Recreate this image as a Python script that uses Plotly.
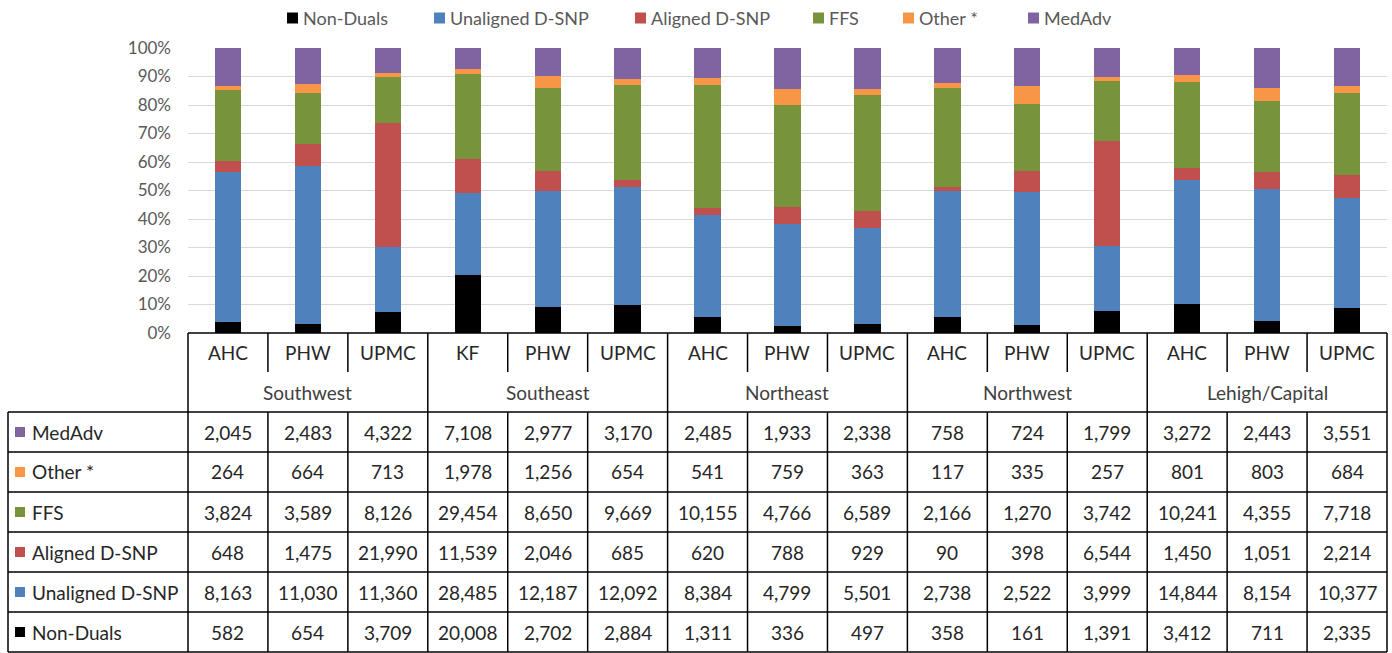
import plotly.graph_objects as go

# ---------------- data ----------------
regions = ["Southwest", "Southeast", "Northeast", "Northwest", "Lehigh/Capital"]
plans = ["AHC", "PHW", "UPMC",
         "KF", "PHW", "UPMC",
         "AHC", "PHW", "UPMC",
         "AHC", "PHW", "UPMC",
         "AHC", "PHW", "UPMC"]

non_duals = [582, 654, 3709, 20008, 2702, 2884, 1311, 336, 497, 358, 161, 1391, 3412, 711, 2335]
unaligned_dsnp = [8163, 11030, 11360, 28485, 12187, 12092, 8384, 4799, 5501, 2738, 2522, 3999, 14844, 8154, 10377]
aligned_dsnp = [648, 1475, 21990, 11539, 2046, 685, 620, 788, 929, 90, 398, 6544, 1450, 1051, 2214]
ffs = [3824, 3589, 8126, 29454, 8650, 9669, 10155, 4766, 6589, 2166, 1270, 3742, 10241, 4355, 7718]
other = [264, 664, 713, 1978, 1256, 654, 541, 759, 363, 117, 335, 257, 801, 803, 684]
medadv = [2045, 2483, 4322, 7108, 2977, 3170, 2485, 1933, 2338, 758, 724, 1799, 3272, 2443, 3551]

series_names = ["Non-Duals", "Unaligned D-SNP", "Aligned D-SNP", "FFS", "Other *", "MedAdv"]
series_values = [non_duals, unaligned_dsnp, aligned_dsnp, ffs, other, medadv]
series_colors = ["#000000", "#4F81BD", "#C0504D", "#77933C", "#F79646", "#8064A2"]

y_ticks = [0, 10, 20, 30, 40, 50, 60, 70, 80, 90, 100]
y_tick_labels = [f"{t}%" for t in y_ticks]

# ---------------- layout geometry ----------------
W, H = 1392, 653
FONT = "Lato, 'Open Sans', Arial, sans-serif"
TXT = "#262626"
GRAY = "#595959"

def px(x):
    return x / W

def py(y):
    return 1 - y / H

n = len(plans)
xdom = [px(188), px(1387)]
ydom = [py(333), py(48)]
xr = [-0.5, n - 0.5]

def xpaper(v):
    return xdom[0] + (v - xr[0]) / (xr[1] - xr[0]) * (xdom[1] - xdom[0])

idx = list(range(n))

fig = go.Figure()
for name, vals, col in zip(series_names, series_values, series_colors):
    fig.add_trace(go.Bar(
        x=idx, y=vals, name=name, marker=dict(color=col, line=dict(width=0)),
        width=0.33, showlegend=False,
    ))

shapes = []
annotations = []
LW = 1.5
LC = "#000000"

def hline(x0, x1, y):
    shapes.append(dict(type="line", xref="paper", yref="paper", x0=x0, x1=x1,
                       y0=py(y), y1=py(y), line=dict(color=LC, width=LW), layer="above"))

def vline(x, y0, y1):
    shapes.append(dict(type="line", xref="paper", yref="paper", x0=x, x1=x,
                       y0=py(y0), y1=py(y1), line=dict(color=LC, width=LW), layer="above"))

# legend (Excel-style, top)
legend_sq_x = [287, 434, 635, 813, 903, 1028]
legend_y = 18
for name, col, sx in zip(series_names, series_colors, legend_sq_x):
    shapes.append(dict(type="rect", xref="paper", yref="paper", x0=px(sx), x1=px(sx + 11),
                       y0=py(legend_y + 5.5), y1=py(legend_y - 5.5), fillcolor=col,
                       line=dict(width=0)))
    annotations.append(dict(x=px(sx + 14), y=py(legend_y), xref="paper", yref="paper",
                            text=name, showarrow=False,
                            font=dict(size=18, color=GRAY, family=FONT),
                            xanchor="left", yanchor="middle"))

# axis / category header
hline(xpaper(-0.5), xpaper(n - 0.5), 333)
for i in range(n + 1):
    b = xpaper(i - 0.5)
    if i % 3 == 0:
        vline(b, 333, 652)
    else:
        vline(b, 333, 372)
        vline(b, 412, 652)

# data table rows
row_top = 412
row_h = 40
table_rows = list(reversed(list(zip(series_names, series_values, series_colors))))
for k in range(len(table_rows) + 1):
    hline(px(8), xpaper(n - 0.5), row_top + k * row_h)
vline(px(8), row_top, row_top + len(table_rows) * row_h)

# category labels
for i, p in enumerate(plans):
    annotations.append(dict(x=xpaper(i), y=py(352), xref="paper", yref="paper", text=p,
                            showarrow=False, font=dict(size=19, color=TXT, family=FONT),
                            xanchor="center", yanchor="middle"))
for r, reg in enumerate(regions):
    annotations.append(dict(x=xpaper(3 * r + 1), y=py(392), xref="paper", yref="paper", text=reg,
                            showarrow=False, font=dict(size=19, color="#404040", family=FONT),
                            xanchor="center", yanchor="middle"))

for k, (name, vals, col) in enumerate(table_rows):
    yc = row_top + k * row_h + row_h / 2
    shapes.append(dict(type="rect", xref="paper", yref="paper", x0=px(15), x1=px(25),
                       y0=py(yc + 5), y1=py(yc - 5), fillcolor=col, line=dict(width=0)))
    annotations.append(dict(x=px(30), y=py(yc), xref="paper", yref="paper", text=name,
                            showarrow=False, font=dict(size=19, color=TXT, family=FONT),
                            xanchor="left", yanchor="middle"))
    for i, v in enumerate(vals):
        annotations.append(dict(x=xpaper(i), y=py(yc), xref="paper", yref="paper",
                                text=f"{v:,}", showarrow=False,
                                font=dict(size=19, color=TXT, family=FONT),
                                xanchor="center", yanchor="middle"))

fig.update_layout(
    width=W, height=H,
    margin=dict(l=0, r=0, t=0, b=0, autoexpand=False),
    paper_bgcolor="white", plot_bgcolor="white",
    barmode="stack", barnorm="percent",
    font=dict(family=FONT, color=GRAY),
    xaxis=dict(domain=xdom, range=xr, showticklabels=False, showgrid=False,
               zeroline=False, showline=False, ticks="", automargin=False),
    yaxis=dict(domain=ydom, range=[0, 100], tickmode="array", tickvals=y_ticks,
               ticktext=y_tick_labels,
               showgrid=True, gridcolor="#D9D9D9", gridwidth=1, zeroline=False,
               showline=False, tickfont=dict(size=17, color=GRAY, family=FONT),
               ticklabelstandoff=16, automargin=False),
    showlegend=False,
    shapes=shapes, annotations=annotations,
)

fig.write_html(
    "out.html",
    config={"displayModeBar": False},
    post_script="document.body.style.margin='0';document.body.style.overflow='hidden';",
)
